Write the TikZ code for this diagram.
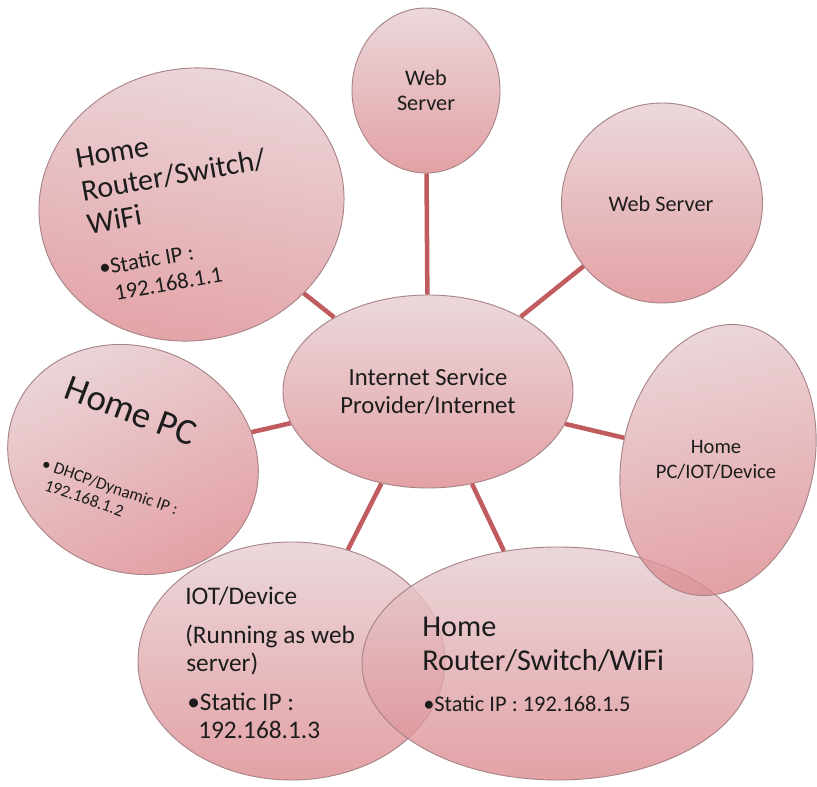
\documentclass[tikz,border=0pt]{standalone}
\usepackage{fontspec}
\setmainfont{Carlito}
\usetikzlibrary{shapes.geometric}
\definecolor{linec}{RGB}{192,92,95}
\definecolor{bordc}{RGB}{168,132,135}
\definecolor{topc}{RGB}{230,206,210}
\definecolor{botc}{RGB}{220,138,143}
\definecolor{txtc}{RGB}{28,28,28}
\tikzset{
 bubble/.style={ellipse, draw=bordc, line width=0.7pt, top color=topc, bottom color=botc, fill opacity=0.8, inner sep=0pt},
 conn/.style={draw=linec, line width=3.4pt},
 lbl/.style={inner sep=0pt, text=txtc, text opacity=1},
}
\newcommand{\fsz}[1]{\fontsize{#1}{#1}\selectfont}
\begin{document}
\begin{tikzpicture}[x=0.75pt,y=-0.75pt]
\useasboundingbox (0,0) rectangle (817,787);
% bubbles
\node[bubble, minimum width=229.5pt, minimum height=204pt, rotate=10, shading angle=-10] (rt1) at (191.5,204.5) {};
\node[bubble, minimum width=192pt, minimum height=168pt, rotate=-25, shading angle=25] (hpc) at (133,459.5) {};
\node[bubble, minimum width=111pt, minimum height=123.75pt] (web1) at (426,90.5) {};
\node[bubble, minimum width=150.75pt, minimum height=150pt] (web2) at (662,203) {};
\node[bubble, minimum width=217.5pt, minimum height=144.75pt] (isp) at (428,391.5) {};
\node[bubble, minimum width=230.25pt, minimum height=178.5pt] (iot) at (291.5,661) {};
\node[bubble, minimum width=293.25pt, minimum height=174.75pt] (rt2) at (557.5,663.5) {};
\node[bubble, minimum width=144pt, minimum height=205.5pt, rotate=-12, shading angle=12] (hpc2) at (718,460) {};
% connectors
\draw[conn] (isp) -- (web1);
\draw[conn] (isp) -- (web2);
\draw[conn] (isp) -- (rt1);
\draw[conn] (isp) -- (hpc);
\draw[conn] (isp) -- (hpc2);
\draw[conn] (isp) -- (iot);
\draw[conn] (isp) -- (rt2);
% texts
\node[lbl, font=\fsz{18.5}, anchor=base] (ispa) at (428,386) {Internet Service};
\node[lbl, font=\fsz{18.5}, anchor=base] (ispb) at (428,413.3) {Provider/Internet};
\node[lbl, font=\fsz{16.7}, anchor=base] (w1a) at (426,86) {Web};
\node[lbl, font=\fsz{16.7}, anchor=base] (w1b) at (426,111) {Server};
\node[lbl, font=\fsz{16.7}, anchor=base] (w2a) at (661,211.7) {Web Server};
\node[lbl, font=\fsz{15.4}, anchor=base] (h2a) at (716,453.3) {Home};
\node[lbl, font=\fsz{15.4}, anchor=base] (h2b) at (716,478.3) {PC/IOT/Device};
\node[lbl, font=\fsz{22.7}, anchor=base west] (r2a) at (422,636.7) {Home};
\node[lbl, font=\fsz{22.7}, anchor=base west] (r2b) at (422,670) {Router/Switch/WiFi};
\node[lbl, font=\fsz{16.8}, anchor=base west] (r2c) at (423,711.7) {•Static IP : 192.168.1.5};
\node[lbl, font=\fsz{19}, anchor=base west] (ia) at (185,604) {IOT/Device};
\node[lbl, font=\fsz{19}, anchor=base west] (ib) at (185,643.3) {(Running as web};
\node[lbl, font=\fsz{19}, anchor=base west] (ic) at (186,671.7) {server)};
\node[lbl, font=\fsz{19}, anchor=base west] (id) at (187,710) {•Static IP :};
\node[lbl, font=\fsz{19}, anchor=base west] (ie) at (198,738.3) {192.168.1.3};
\begin{scope}[shift={(77.3,168.3)}, rotate=10, transform shape]
\node[lbl, font=\fsz{22.6}, anchor=base west] (r1a) at (0,0) {Home};
\node[lbl, font=\fsz{22.6}, anchor=base west] (r1b) at (0,33.5) {Router/Switch/};
\node[lbl, font=\fsz{22.6}, anchor=base west] (r1c) at (0,67) {WiFi};
\node[lbl, font=\fsz{17}, anchor=base west] (r1d) at (4,110) {•Static IP :};
\node[lbl, font=\fsz{17}, anchor=base west] (r1e) at (15,137) {192.168.1.1};
\end{scope}
\node[lbl, font=\fsz{27.6}, rotate=-20.6] (hpa) at (131,411) {Home PC};
\begin{scope}[shift={(43.3,490)}, rotate=-19, transform shape]
\node[lbl, font=\fsz{12.8}, anchor=base west] (hpb) at (-9.5,-19.5) {•\ DHCP/Dynamic IP :};
\node[lbl, font=\fsz{12.8}, anchor=base west] (hpc3) at (0,0) {192.168.1.2};
\end{scope}
\end{tikzpicture}
\end{document}
